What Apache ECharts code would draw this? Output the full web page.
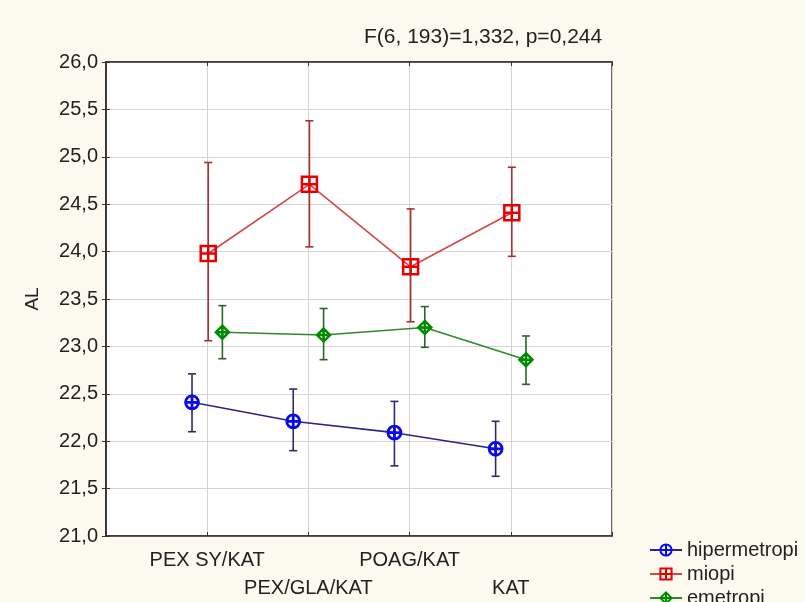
<!DOCTYPE html>
<html>
<head>
<meta charset="utf-8">
<script src="https://cdn.jsdelivr.net/npm/echarts@6/dist/echarts.min.js"></script>
<style>html,body{margin:0;padding:0;background:#fcf9ef;}#c{width:805px;height:602px;}</style>
</head>
<body>
<div id="c"></div>
<script>
// ---- data ----
var categories = ['PEX SY/KAT', 'PEX/GLA/KAT', 'POAG/KAT', 'KAT'];
var seriesNames = ['hipermetropi', 'miopi', 'emetropi'];
var hiperMean = [22.41, 22.21, 22.09, 21.92];
var hiperLow  = [22.10, 21.90, 21.74, 21.63];
var hiperHigh = [22.71, 22.55, 22.42, 22.21];
var miopiMean = [23.98, 24.71, 23.84, 24.41];
var miopiLow  = [23.06, 24.05, 23.26, 23.95];
var miopiHigh = [24.94, 25.38, 24.45, 24.89];
var emetMean  = [23.15, 23.12, 23.20, 22.86];
var emetLow   = [22.87, 22.86, 22.99, 22.60];
var emetHigh  = [23.43, 23.40, 23.42, 23.11];
var yTicks = [21.0, 21.5, 22.0, 22.5, 23.0, 23.5, 24.0, 24.5, 25.0, 25.5, 26.0];
var titleText = 'F(6, 193)=1,332, p=0,244';

// ---- styling ----
var FONT = 'Liberation Sans';
var offsets = [-0.15, 0.01, 0.15];
var styles = [
  {line: '#26268a', marker: '#0a0af0', err: '#2c2c6c', size: 13, bw: 2.8,
   symbol: 'path://M0,-10A10,10,0,1,1,0,10A10,10,0,1,1,0,-10ZM0,-10L0,10M-10,0L10,0'},
  {line: '#d24848', marker: '#e80000', err: '#a63030', size: 15, bw: 2.5,
   symbol: 'path://M-10,-10L10,-10L10,10L-10,10ZM0,-10L0,10M-10,0L10,0'},
  {line: '#2f8a2f', marker: '#008a00', err: '#2e632e', size: 13, bw: 2.5,
   symbol: 'path://M0,-10L10,0L0,10L-10,0ZM0,-10L0,10M-10,0L10,0'}
];
var means = [hiperMean, miopiMean, emetMean];
var lows = [hiperLow, miopiLow, emetLow];
var highs = [hiperHigh, miopiHigh, emetHigh];

var series = [];
seriesNames.forEach(function (name, s) {
  var st = styles[s];
  var errData = means[s].map(function (m, i) { return [i + 1 + offsets[s], lows[s][i], highs[s][i]]; });
  series.push({
    type: 'custom', name: name + '_err', z: 2, silent: true,
    data: errData,
    encode: {x: 0, y: [1, 2]},
    renderItem: function (params, api) {
      var x = api.value(0);
      var t = api.coord([x, api.value(2)]);
      var b = api.coord([x, api.value(1)]);
      var cw = 4;
      var ls = {stroke: st.err, lineWidth: 1.6};
      return {type: 'group', children: [
        {type: 'line', shape: {x1: t[0], y1: t[1], x2: b[0], y2: b[1]}, style: ls},
        {type: 'line', shape: {x1: t[0] - cw, y1: t[1], x2: t[0] + cw, y2: t[1]}, style: ls},
        {type: 'line', shape: {x1: b[0] - cw, y1: b[1], x2: b[0] + cw, y2: b[1]}, style: ls}
      ]};
    }
  });
  series.push({
    type: 'line', name: name, z: 5,
    data: means[s].map(function (m, i) { return [i + 1 + offsets[s], m]; }),
    symbol: st.symbol, symbolSize: st.size,
    lineStyle: {color: st.line, width: 1.6},
    itemStyle: {color: 'rgba(255,255,255,0)', borderColor: st.marker, borderWidth: st.bw},
    emphasis: {disabled: true}
  });
});

var chart = echarts.init(document.getElementById('c'), null, {renderer: 'canvas'});
chart.setOption({
  backgroundColor: '#fcf9ef',
  animation: false,
  textStyle: {fontFamily: FONT},
  title: {
    text: titleText, left: 359, top: 22,
    textStyle: {fontFamily: FONT, fontSize: 21, fontWeight: 'normal', color: '#222'}
  },
  legend: {
    orient: 'vertical', left: 644, top: 535, height: 150,
    itemWidth: 32, itemHeight: 14, itemGap: 4,
    data: seriesNames,
    textStyle: {fontFamily: FONT, fontSize: 20, color: '#222', lineHeight: 19}
  },
  grid: {
    left: 106, right: 193, top: 62, bottom: 58,
    show: true, backgroundColor: '#ffffff', borderColor: '#333', borderWidth: 1.5
  },
  xAxis: [{
    type: 'value', min: 0, max: 5, interval: 1, position: 'bottom',
    axisLine: {show: true, lineStyle: {color: '#333', width: 1.5}},
    axisTick: {show: true, inside: true, length: 4, lineStyle: {color: '#333'}},
    splitLine: {show: true, lineStyle: {color: '#d4d4d4', width: 1}},
    axisLabel: {
      margin: 10, fontFamily: FONT, fontSize: 20, color: '#222', lineHeight: 28,
      verticalAlign: 'top',
      formatter: function (v) {
        var i = Math.round(v) - 1;
        if (i < 0 || i >= categories.length) return '';
        return (i % 2 === 1 ? '\n' : '') + categories[i];
      }
    }
  }, {
    type: 'value', min: 0, max: 5, interval: 1, position: 'top',
    axisLine: {show: true, lineStyle: {color: '#333', width: 1.5}},
    axisTick: {show: true, inside: true, length: 4, lineStyle: {color: '#333'}},
    splitLine: {show: false}, axisLabel: {show: false}
  }],
  yAxis: [{
    type: 'value', min: yTicks[0], max: yTicks[yTicks.length - 1], interval: 0.5,
    name: 'AL', nameLocation: 'middle', nameGap: 64, nameRotate: 90,
    nameTextStyle: {fontFamily: FONT, fontSize: 19, color: '#222'},
    axisLine: {show: true, lineStyle: {color: '#333', width: 1.5}},
    axisTick: {show: true, inside: true, length: 4, lineStyle: {color: '#333'}},
    splitLine: {show: true, lineStyle: {color: '#d4d4d4', width: 1}},
    axisLabel: {
      margin: 8, fontFamily: FONT, fontSize: 20, color: '#222',
      formatter: function (v) { return v.toFixed(1).replace('.', ','); }
    }
  }, {
    type: 'value', min: yTicks[0], max: yTicks[yTicks.length - 1], interval: 0.5, position: 'right',
    axisLine: {show: true, lineStyle: {color: '#333', width: 1.5}},
    axisTick: {show: true, inside: true, length: 4, lineStyle: {color: '#333'}},
    splitLine: {show: false}, axisLabel: {show: false}
  }],
  series: series
});
</script>
</body>
</html>
